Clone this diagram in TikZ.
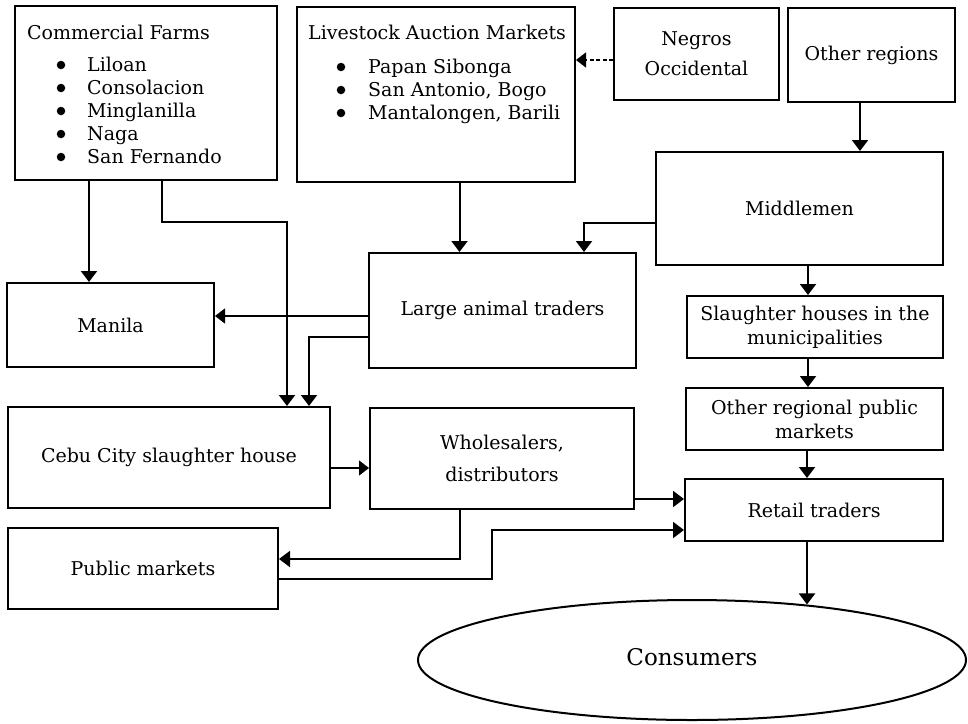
\documentclass[tikz,border=0pt]{standalone}
\usepackage{fontspec}
\setmainfont{DejaVu Serif}
\usetikzlibrary{arrows.meta,shapes.geometric}
\begin{document}
\begin{tikzpicture}[x=1pt,y=-1pt,
  box/.style={draw, line width=2pt, inner sep=0pt, align=center,
              font=\fontsize{19}{24}\selectfont},
  txt/.style={inner sep=0pt, anchor=base west, font=\fontsize{19}{24}\selectfont},
  dot/.style={circle, fill, inner sep=0pt, minimum size=8.5pt},
  flow/.style={line width=2pt, -{Triangle[length=11pt,width=16pt]}},
  thinflow/.style={line width=1.4pt, -{Triangle[length=10pt,width=15pt]}},
]
\useasboundingbox (0,0) rectangle (968,723);
\fill[white] (0,0) rectangle (968,723);

% ---- source boxes -------------------------------------------------
\node[box, minimum width=262pt, minimum height=174pt] (farms) at (146,93) {};
\node[txt] (farmsT) at (27,39) {Commercial Farms};
\node[dot] (fb1) at (61,65) {};  \node[txt] (fi1) at (87,71)  {Liloan};
\node[dot] (fb2) at (61,88) {};  \node[txt] (fi2) at (87,94)  {Consolacion};
\node[dot] (fb3) at (61,111) {}; \node[txt] (fi3) at (87,117) {Minglanilla};
\node[dot] (fb4) at (61,134) {}; \node[txt] (fi4) at (87,140) {Naga};
\node[dot] (fb5) at (61,157) {}; \node[txt] (fi5) at (87,163) {San Fernando};

\node[box, minimum width=278pt, minimum height=175pt] (auction) at (436,94.5) {};
\node[txt] (auctionT) at (308,39) {Livestock Auction Markets};
\node[dot] (ab1) at (341,67) {};  \node[txt] (ai1) at (368,73)  {Papan Sibonga};
\node[dot] (ab2) at (341,90) {};  \node[txt] (ai2) at (368,96)  {San Antonio, Bogo};
\node[dot] (ab3) at (341,113) {}; \node[txt] (ai3) at (368,119) {Mantalongen, Barili};

\node[box, minimum width=165pt, minimum height=92pt] (negros) at (696.5,54)
  {Negros\\[6pt]Occidental};
\node[box, minimum width=167pt, minimum height=94pt] (other) at (871.5,55)
  {Other regions};

% ---- intermediate boxes ------------------------------------------
\node[box, minimum width=287pt, minimum height=113pt] (middle) at (799.5,208.5) {Middlemen};
\node[box, minimum width=267pt, minimum height=115pt] (large) at (502.5,310.5) {Large animal traders};
\node[box, minimum width=207pt, minimum height=84pt] (manila) at (110.5,325) {Manila};
\node[box, minimum width=256pt, minimum height=62pt] (slmun) at (815,327)
  {Slaughter houses in the\\municipalities};
\node[box, minimum width=257pt, minimum height=62pt] (orpm) at (814.5,419)
  {Other regional public\\markets};
\node[box, minimum width=322pt, minimum height=101pt] (cebu) at (169,457.5)
  {Cebu City slaughter house};
\node[box, minimum width=264pt, minimum height=101pt] (whole) at (502,458.5)
  {Wholesalers,\\[8pt]distributors};
\node[box, minimum width=258pt, minimum height=62pt] (retail) at (814,510) {Retail traders};
\node[box, minimum width=270pt, minimum height=81pt] (public) at (143,568.5) {Public markets};

% ---- final consumers ---------------------------------------------
\node[ellipse, draw, line width=2pt, inner sep=0pt,
      minimum width=548pt, minimum height=120pt] (cons) at (692,660) {};
\node[inner sep=0pt, font=\fontsize{23}{27}\selectfont] (consT) at (692,657) {Consumers};

% ---- flows ---------------------------------------------------------
\draw[flow] ([xshift=-57pt]farms.south) coordinate (f1) -- (f1 |- manila.north);
\draw[flow] ([xshift=16pt]farms.south) -- ++(0,41) -| ([xshift=118pt]cebu.north);
\draw[flow] ([xshift=23.5pt]auction.south) coordinate (a1) -- (a1 |- large.north);
\draw[thinflow, dash pattern=on 4pt off 2.5pt] ([yshift=-6pt]negros.west) coordinate (n1)
  -- (n1 -| auction.east);
\draw[flow] ([xshift=-11.5pt]other.south) coordinate (o1) -- (o1 |- middle.north);
\draw[flow] ([yshift=-14.5pt]middle.west) -| ([xshift=81.5pt]large.north);
\draw[flow] ([xshift=8.5pt]middle.south) coordinate (m1) -- (m1 |- slmun.north);
\draw[thinflow] ([yshift=-5.5pt]large.west) coordinate (l1) -- (l1 -| manila.east);
\draw[flow] ([yshift=-26.5pt]large.west) -| ([xshift=140pt]cebu.north);
\draw[flow] ([xshift=-7pt]slmun.south) coordinate (s1) -- (s1 |- orpm.north);
\draw[flow] ([xshift=-7.5pt]orpm.south) coordinate (r1) -- (r1 |- retail.north);
\draw[thinflow] ([yshift=-10.5pt]cebu.east) coordinate (c1) -- (c1 -| whole.west);
\draw[flow] ([yshift=-40.5pt]whole.east) coordinate (w1) -- (w1 -| retail.west);
\draw[flow] ([xshift=-42pt]whole.south) |- ([yshift=9.5pt]public.east);
\draw[flow] ([yshift=-10.5pt]public.east) -- ++(213,0) |- ([yshift=-20pt]retail.west);
\draw[flow] ([xshift=-7pt]retail.south) coordinate (t1) -- (t1 |- cons.26);
\end{tikzpicture}
\end{document}
